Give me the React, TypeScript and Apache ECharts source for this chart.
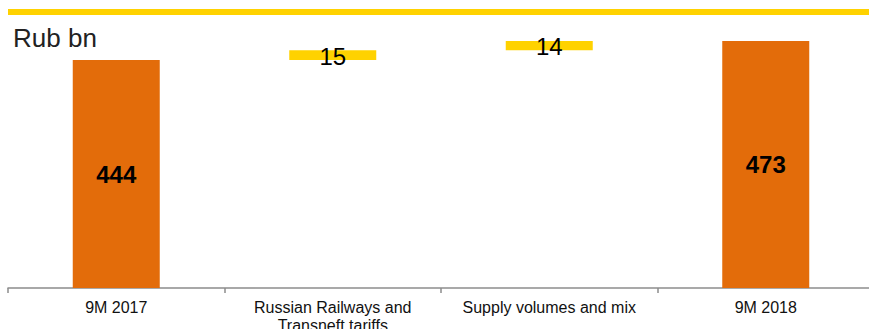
import React, { useEffect, useRef } from "react";
import * as echarts from "echarts";

const categories = [
  "9M 2017",
  "Russian Railways and\nTransneft tariffs",
  "Supply volumes and mix",
  "9M 2018",
];
const totals: (number | null)[] = [444, null, null, 473];
const changes: (number | null)[] = [null, 15, 14, null];
const unitLabel = "Rub bn";

const ORANGE = "#E36C0A";
const YELLOW = "#FFD200";
const FONT = "Liberation Sans, Arial, sans-serif";

function buildBase(): (number | string)[] {
  const base: (number | string)[] = [];
  let running = 0;
  for (let i = 0; i < categories.length; i++) {
    if (totals[i] != null) {
      running = totals[i] as number;
      base.push("-");
    } else {
      base.push(running);
      running += changes[i] as number;
    }
  }
  return base;
}

export default function App() {
  const ref = useRef<HTMLDivElement>(null);
  useEffect(() => {
    document.body.style.margin = "0";
    document.body.style.overflow = "hidden";
    if (!ref.current) return;
    const chart = echarts.init(ref.current, undefined, { renderer: "svg" });
    const base = buildBase();
    chart.setOption({
      animation: false,
      backgroundColor: "#ffffff",
      textStyle: { fontFamily: FONT },
      grid: {
        left: 8,
        right: 0,
        top: 23,
        bottom: 41,
        containLabel: false,
        outerBoundsMode: "none",
      },
      xAxis: {
        type: "category",
        data: categories,
        boundaryGap: true,
        axisLine: { show: true, lineStyle: { color: "#8c8c8c", width: 1.5 } },
        axisTick: { show: true, length: 5, interval: 0, lineStyle: { color: "#8c8c8c", width: 1.5 } },
        axisLabel: {
          interval: 0,
          margin: 10,
          color: "#111111",
          fontSize: 16,
          lineHeight: 18,
          fontFamily: FONT,
        },
      },
      yAxis: {
        type: "value",
        min: 100,
        max: 500,
        show: false,
        splitLine: { show: false },
      },
      graphic: [
        {
          type: "rect",
          left: 8,
          top: 9,
          shape: { width: 866, height: 6 },
          style: { fill: YELLOW },
          silent: true,
        },
        {
          type: "text",
          left: 13,
          top: 25,
          style: {
            text: unitLabel,
            fontSize: 26,
            fontFamily: FONT,
            fill: "#222222",
          },
        },
      ],
      series: [
        {
          name: "base",
          type: "bar",
          stack: "w",
          barWidth: 87,
          data: base,
          itemStyle: { color: "transparent" },
          emphasis: { disabled: true },
          silent: true,
        },
        {
          name: "total",
          type: "bar",
          stack: "w",
          barWidth: 87,
          data: totals.map((v) => (v == null ? "-" : v)),
          itemStyle: { color: ORANGE },
          label: {
            show: true,
            position: "inside",
            color: "#000000",
            fontSize: 24,
            fontWeight: "bold",
            fontFamily: FONT,
          },
        },
        {
          name: "change",
          type: "bar",
          stack: "w",
          barWidth: 87,
          data: changes.map((v) => (v == null ? "-" : v)),
          itemStyle: { color: YELLOW },
          label: {
            show: true,
            position: "inside",
            color: "#000000",
            fontSize: 24,
            fontFamily: FONT,
            offset: [0, 1],
          },
        },
      ],
    });
    return () => chart.dispose();
  }, []);
  return <div ref={ref} style={{ width: 874, height: 329 }} />;
}
